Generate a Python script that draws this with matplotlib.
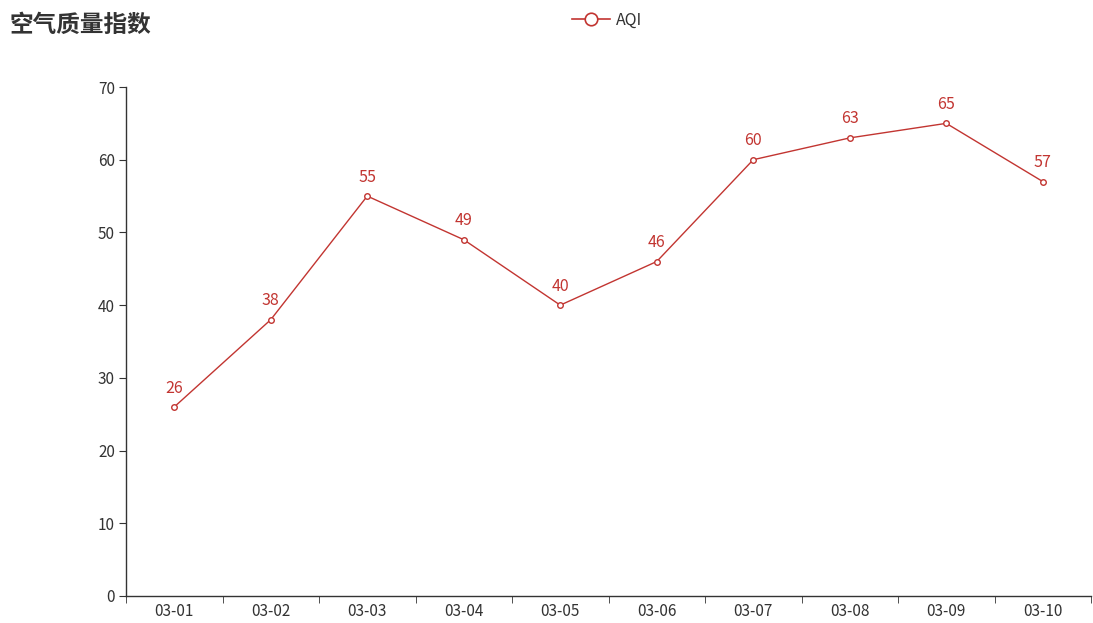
import matplotlib
matplotlib.use("Agg")
import matplotlib.pyplot as plt
from matplotlib.lines import Line2D

plt.rcParams['font.family'] = ['Noto Sans CJK SC', 'DejaVu Sans']

dates = ["03-01", "03-02", "03-03", "03-04", "03-05", "03-06", "03-07", "03-08", "03-09", "03-10"]
aqi = [26, 38, 55, 49, 40, 46, 60, 63, 65, 57]
y_ticks = [0, 10, 20, 30, 40, 50, 60, 70]

color = "#c23531"
axis_color = "#333333"

fig = plt.figure(figsize=(10.93, 6.23), dpi=100)
ax = fig.add_axes([126/1093, 27/623, (1091-126)/1093, (596-87)/623])

x = list(range(len(dates)))
ax.plot(x, aqi, color=color, linewidth=1.0, marker='o', markersize=4,
        markerfacecolor='white', markeredgecolor=color, markeredgewidth=1.0, zorder=3)
for xi, yi in zip(x, aqi):
    ax.annotate(str(yi), (xi, yi), xytext=(0, 7.5), textcoords='offset points',
                ha='center', va='bottom', color=color, fontsize=11.5)

ax.set_xlim(-0.5, len(dates) - 0.5)
ax.set_ylim(0, 70)
ax.set_yticks(y_ticks)
ax.set_xticks(x)
ax.set_xticklabels(dates)
ax.set_xticks([i - 0.5 for i in range(len(dates) + 1)], minor=True)
ax.tick_params(axis='x', which='major', length=0, pad=5, labelsize=11, labelcolor=axis_color)
ax.tick_params(axis='x', which='minor', length=5, color=axis_color, direction='out')
ax.tick_params(axis='y', length=5, color=axis_color, labelsize=11, labelcolor=axis_color, pad=3)

for s in ['top', 'right']:
    ax.spines[s].set_visible(False)
for s in ['left', 'bottom']:
    ax.spines[s].set_color(axis_color)
    ax.spines[s].set_linewidth(1.0)

fig.text(10/1093, 1 - 25/623, "空气质量指数", fontsize=17, fontweight='bold',
         color='#333333', ha='left', va='center')

handle = Line2D([0], [0], color=color, linewidth=1.2, marker='o', markersize=9,
                markerfacecolor='white', markeredgecolor=color, markeredgewidth=1.2)
fig.legend([handle], ["AQI"], loc='center', bbox_to_anchor=(607/1093, 1 - 20/623),
           frameon=False, fontsize=11.5, handlelength=2.4, handletextpad=0.4,
           labelcolor=axis_color)

fig.savefig("out.png", dpi=100)
